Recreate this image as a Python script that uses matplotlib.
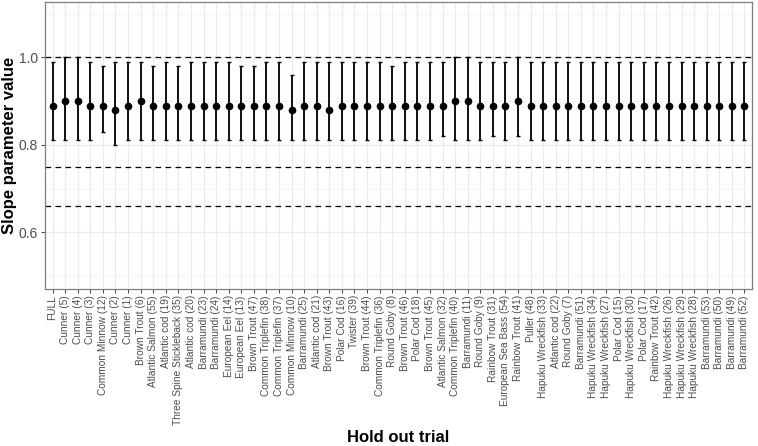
import numpy as np
import matplotlib.pyplot as plt
from matplotlib.ticker import MultipleLocator

plt.rcParams['font.family'] = ['Liberation Sans', 'DejaVu Sans']

# Hold-out trials (x axis order as in the figure)
trials = [
    'FULL', 'Cunner (5)', 'Cunner (4)', 'Cunner (3)', 'Common Minnow (12)',
    'Cunner (2)', 'Cunner (1)', 'Brown Trout (6)', 'Atlantic Salmon (55)',
    'Atlantic cod (19)', 'Three Spine Stickleback (35)', 'Atlantic cod (20)',
    'Barramundi (23)', 'Barramundi (24)', 'European Eel (14)', 'European Eel (13)',
    'Brown Trout (47)', 'Common Triplefin (38)', 'Common Triplefin (37)',
    'Common Minnow (10)', 'Barramundi (25)', 'Atlantic cod (21)', 'Brown Trout (43)',
    'Polar Cod (16)', 'Twister (39)', 'Brown Trout (44)', 'Common Triplefin (36)',
    'Round Goby (8)', 'Brown Trout (46)', 'Polar Cod (18)', 'Brown Trout (45)',
    'Atlantic Salmon (32)', 'Common Triplefin (40)', 'Barramundi (11)',
    'Round Goby (9)', 'Rainbow Trout (31)', 'European Sea Bass (54)',
    'Rainbow Trout (41)', 'Puller (48)', 'Hapuku Wreckfish (33)', 'Atlantic cod (22)',
    'Round Goby (7)', 'Barramundi (51)', 'Hapuku Wreckfish (34)',
    'Hapuku Wreckfish (27)', 'Polar Cod (15)', 'Hapuku Wreckfish (30)',
    'Polar Cod (17)', 'Rainbow Trout (42)', 'Hapuku Wreckfish (26)',
    'Hapuku Wreckfish (29)', 'Hapuku Wreckfish (28)', 'Barramundi (53)',
    'Barramundi (50)', 'Barramundi (49)', 'Barramundi (52)',
]

# slope estimate
est = [0.89, 0.90, 0.90, 0.89, 0.89, 0.88, 0.89, 0.90, 0.89, 0.89,
       0.89, 0.89, 0.89, 0.89, 0.89, 0.89, 0.89, 0.89, 0.89, 0.88,
       0.89, 0.89, 0.88, 0.89, 0.89, 0.89, 0.89, 0.89, 0.89, 0.89,
       0.89, 0.89, 0.90, 0.90, 0.89, 0.89, 0.89, 0.90, 0.89, 0.89,
       0.89, 0.89, 0.89, 0.89, 0.89, 0.89, 0.89, 0.89, 0.89, 0.89,
       0.89, 0.89, 0.89, 0.89, 0.89, 0.89]
# upper interval
upper = [0.99, 1.00, 1.00, 0.99, 0.98, 0.99, 0.99, 0.99, 0.98, 0.99,
         0.98, 0.99, 0.99, 0.99, 0.99, 0.98, 0.98, 0.99, 0.99, 0.96,
         0.99, 0.99, 0.99, 0.99, 0.99, 0.99, 0.99, 0.98, 0.99, 0.99,
         0.99, 0.99, 1.00, 1.00, 0.99, 0.99, 0.99, 1.00, 0.99, 0.99,
         0.99, 0.99, 0.99, 0.99, 0.99, 0.99, 0.99, 0.99, 0.99, 0.99,
         0.99, 0.99, 0.99, 0.99, 0.99, 0.99]
# lower interval
lower = [0.81, 0.81, 0.81, 0.81, 0.83, 0.80, 0.81, 0.81, 0.81, 0.81,
         0.81, 0.81, 0.81, 0.81, 0.81, 0.81, 0.81, 0.81, 0.81, 0.81,
         0.81, 0.81, 0.81, 0.81, 0.81, 0.81, 0.81, 0.81, 0.81, 0.81,
         0.81, 0.82, 0.81, 0.81, 0.81, 0.82, 0.81, 0.82, 0.81, 0.81,
         0.81, 0.81, 0.81, 0.81, 0.81, 0.81, 0.81, 0.81, 0.81, 0.81,
         0.81, 0.81, 0.81, 0.81, 0.81, 0.81]

ref_lines = [1.0, 0.75, 0.66]

x = np.arange(len(trials))
est = np.array(est)
yerr = [est - np.array(lower), np.array(upper) - est]

fig = plt.figure(figsize=(7.58, 4.46), dpi=100)
ax = fig.add_axes([45 / 758, 1 - 289 / 446, (752 - 45) / 758, (289 - 2) / 446])

ax.errorbar(x, est, yerr=yerr, fmt='o', color='black', markersize=4.5,
            elinewidth=1.3, capsize=1.2, capthick=1.0, zorder=3)

for h in ref_lines:
    ax.axhline(h, color='black', linestyle=(0, (4.5, 3.5)), linewidth=0.9, zorder=2)

# Limits and grid (theme_bw look)
ax.set_xlim(-0.6, len(trials) - 0.4)
ax.set_ylim(0.47, 1.127)
ax.yaxis.set_major_locator(MultipleLocator(0.2))
ax.yaxis.set_minor_locator(MultipleLocator(0.1))
ax.set_xticks(x)
ax.set_xticklabels(trials, rotation=90, fontsize=7.3, color='#4d4d4d')
ax.tick_params(axis='y', labelsize=10, colors='#4d4d4d', length=3, width=0.8, pad=2)
ax.tick_params(axis='x', length=3, width=0.8, colors='#4d4d4d', pad=1.5)
ax.tick_params(axis='y', which='minor', length=0)
ax.grid(True, which='major', color='#ebebeb', linewidth=0.9, zorder=0)
ax.grid(True, which='minor', axis='y', color='#f4f4f4', linewidth=0.6, zorder=0)
ax.set_axisbelow(True)
for s in ax.spines.values():
    s.set_color('#7f7f7f')
    s.set_linewidth(0.9)

ax.set_xlabel('Hold out trial', fontsize=12, fontweight='bold')
ax.xaxis.set_label_coords(0.5, -(437 - 289) / 287, transform=ax.transAxes)
ax.xaxis.label.set_verticalalignment('center')
ax.set_ylabel('Slope parameter value', fontsize=12, fontweight='bold')
ax.yaxis.set_label_coords(-(45 - 10) / 707, 0.5, transform=ax.transAxes)
ax.yaxis.label.set_verticalalignment('center')

fig.savefig('out.png', dpi=100)
